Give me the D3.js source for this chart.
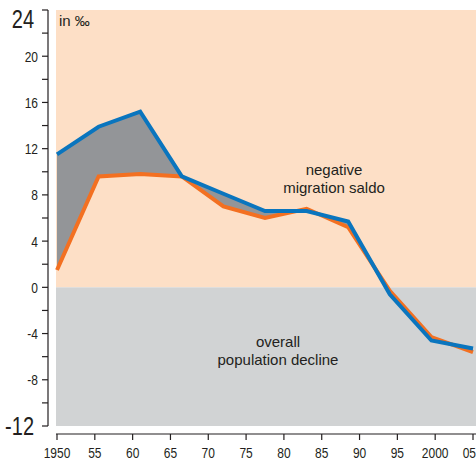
<!DOCTYPE html>
<html>
<head>
<meta charset="utf-8">
<script src="https://cdn.jsdelivr.net/npm/d3@7"></script>
<style>
  body { margin: 0; background: #fff; }
  svg { display: block; }
  text { font-family: "Liberation Sans", "DejaVu Sans", sans-serif; fill: #231f20; }
</style>
</head>
<body>
<div id="chart"></div>
<script>
// years where the two series have their vertices
const years = [1950, 1955.5, 1961, 1966.5, 1972, 1977.5, 1983, 1988.5, 1994, 1999.5, 2005];
// overall population change (blue) and natural change (orange), in per mille
const overall = [11.5, 13.9, 15.2, 9.6, 8.1, 6.6, 6.6, 5.7, -0.6, -4.6, -5.3];
const natural = [1.5, 9.6, 9.8, 9.6, 7.0, 6.0, 6.8, 5.2, -0.3, -4.3, -5.6];
const xTicks = [1950, 1955, 1960, 1965, 1970, 1975, 1980, 1985, 1990, 1995, 2000, 2005];
const xTickLabels = ['1950', '55', '60', '65', '70', '75', '80', '85', '90', '95', '2000', '05'];
const yTicks = [24, 20, 16, 12, 8, 4, 0, -4, -8, -12];

const width = 476, height = 462;
const narrow = 0.8; // fake condensed face
const svg = d3.select('#chart').append('svg').attr('width', width).attr('height', height);

const x = d3.scaleLinear().domain([1950, 2005]).range([57, 473]);
const y = d3.scaleLinear().domain([-12, 24]).range([426, 10]);

// background zones
svg.append('rect').attr('x', 56).attr('y', y(24)).attr('width', width - 56).attr('height', y(0) - y(24)).attr('fill', '#fddfc6');
svg.append('rect').attr('x', 56).attr('y', y(0)).attr('width', width - 56).attr('height', y(-12) - y(0)).attr('fill', '#d1d3d4');

const pts = years.map((yr, i) => ({ yr, a: overall[i], b: natural[i] }));

// grey area between the two lines (migration gain)
svg.append('path')
  .datum(pts)
  .attr('fill', '#939598')
  .attr('d', d3.area().x(d => x(d.yr)).y0(d => y(d.b)).y1(d => y(Math.max(d.a, d.b))));

const line = key => d3.line().x(d => x(d.yr)).y(d => y(d[key]));
svg.append('path').datum(pts).attr('fill', 'none').attr('stroke', '#f37021').attr('stroke-width', 4).attr('d', line('b'));
svg.append('path').datum(pts).attr('fill', 'none').attr('stroke', '#0a75be').attr('stroke-width', 4).attr('d', line('a'));

// y axis
const yAxis = svg.append('g').attr('transform', 'translate(48,0)');
yAxis.append('line').attr('y1', y(24)).attr('y2', y(-12)).attr('stroke', '#231f20').attr('stroke-width', 1.2);
yAxis.selectAll('.tk').data(d3.range(-12, 25, 2)).enter().append('line')
  .attr('x1', -6).attr('x2', 0).attr('y1', d => y(d)).attr('y2', d => y(d))
  .attr('stroke', '#231f20').attr('stroke-width', 1.2);
const big = d => d === 24 || d === -12;
yAxis.selectAll('.lb').data(yTicks).enter().append('text')
  .attr('transform', d => `translate(${big(d) ? -14 : -10},${d === 24 ? y(d) + 18 : y(d)}) scale(${narrow},1)`)
  .attr('dy', d => d === 24 ? 0 : '0.36em')
  .attr('text-anchor', 'end')
  .attr('font-size', d => big(d) ? 25 : 15)
  .text(d => d);

// x axis
const xAxis = svg.append('g').attr('transform', 'translate(0,434)');
xAxis.append('line').attr('x1', 56).attr('x2', width).attr('stroke', '#231f20').attr('stroke-width', 1.2);
xAxis.selectAll('.tk').data(xTicks).enter().append('line')
  .attr('x1', d => x(d)).attr('x2', d => x(d)).attr('y1', 0).attr('y2', 6)
  .attr('stroke', '#231f20').attr('stroke-width', 1.2);
xAxis.selectAll('.lb').data(xTicks).enter().append('text')
  .attr('transform', (d, i) => `translate(${i === xTicks.length - 1 ? width : x(d)},24) scale(${narrow},1)`)
  .attr('text-anchor', (d, i) => i === xTicks.length - 1 ? 'end' : 'middle')
  .attr('font-size', 15)
  .text((d, i) => xTickLabels[i]);

// annotations
svg.append('text').attr('x', 59).attr('y', 26).attr('font-size', 15).text('in ‰');
const note = (lines, cx, cy) => {
  svg.append('text').attr('text-anchor', 'middle').attr('font-size', 15).attr('fill', '#333')
    .selectAll('tspan').data(lines).enter().append('tspan')
    .attr('x', cx).attr('y', (d, i) => cy + i * 18).text(d => d);
};
note(['negative', 'migration saldo'], 334, 175);
note(['overall', 'population decline'], 278, 347);
</script>
</body>
</html>
